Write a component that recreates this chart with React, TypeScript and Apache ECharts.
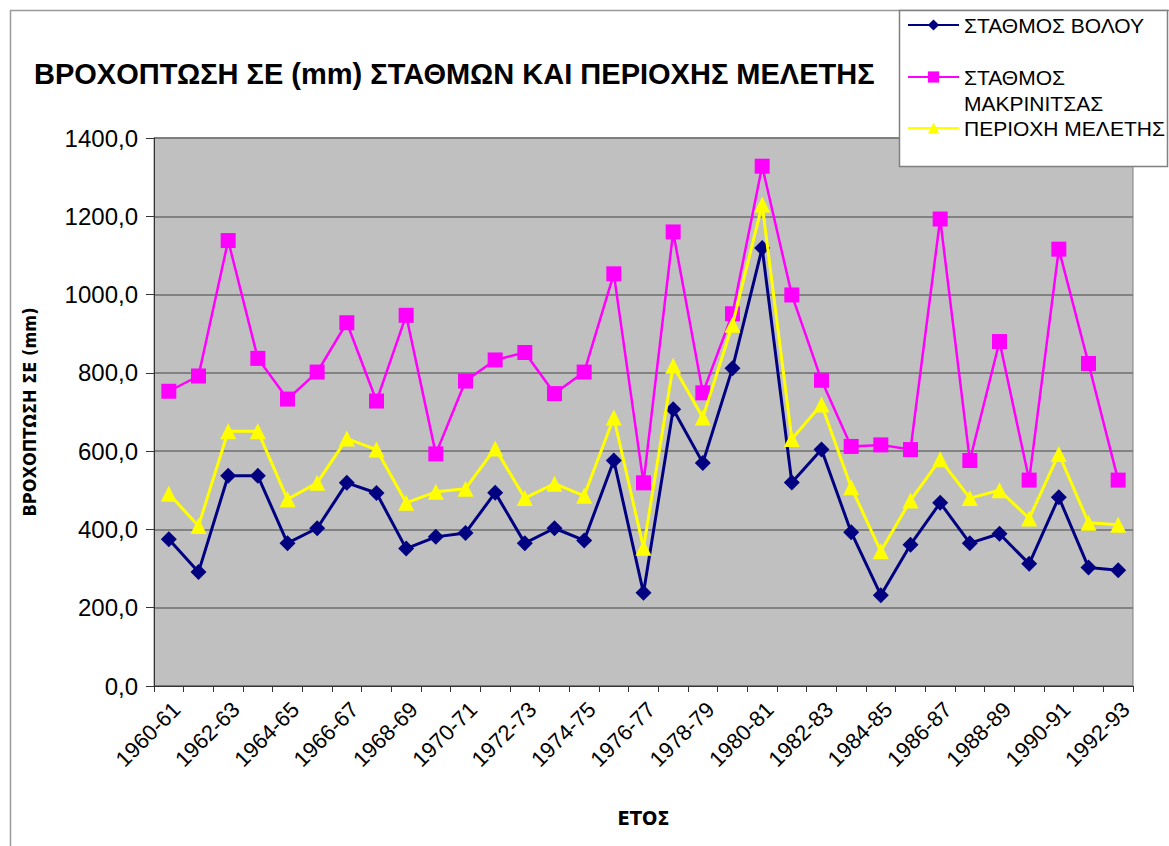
import React, { useEffect, useRef } from "react";
import * as echarts from "echarts";

const categories = [
  "1960-61", "1961-62", "1962-63", "1963-64", "1964-65", "1965-66", "1966-67",
  "1967-68", "1968-69", "1969-70", "1970-71", "1971-72", "1972-73", "1973-74",
  "1974-75", "1975-76", "1976-77", "1977-78", "1978-79", "1979-80", "1980-81",
  "1981-82", "1982-83", "1983-84", "1984-85", "1985-86", "1986-87", "1987-88",
  "1988-89", "1989-90", "1990-91", "1991-92", "1992-93",
];

const volos = [
  375, 291, 537, 537, 365, 403, 519, 493, 351, 381, 391, 494, 365, 403, 372,
  576, 238, 707, 570, 812, 1119, 520, 604, 393, 232, 361, 468, 365, 389, 312,
  482, 303, 296,
];

const makrinitsa = [
  753, 792, 1138, 837, 733, 802, 928, 728, 947, 593, 779, 833, 852, 747, 802,
  1053, 519, 1160, 749, 951, 1328, 999, 781, 612, 616, 604, 1193, 576, 880, 526,
  1116, 824, 526,
];

const studyArea = [
  491, 409, 651, 651, 477, 519, 632, 604, 468, 496, 504, 607, 480, 517, 486,
  686, 353, 818, 686, 923, 1230, 631, 719, 508, 344, 474, 579, 480, 500, 428,
  593, 417, 412,
];

const yTicks = { min: 0, max: 1400, interval: 200 };

const FONT = "'Liberation Sans', Arial, sans-serif";
const NARROW = "'Liberation Sans Narrow', 'DejaVu Sans Condensed', 'Liberation Sans', sans-serif";

export default function App() {
  const ref = useRef<HTMLDivElement>(null);

  useEffect(() => {
    document.body.style.margin = "0";
    if (!ref.current) return;
    const chart = echarts.init(ref.current, undefined, { renderer: "svg" });
    const legendBase = {
      orient: "vertical",
      left: 907,
      padding: 0,
      itemWidth: 51,
      itemHeight: 14,
      z: 12,
      textStyle: { fontSize: 21, color: "#000", fontFamily: FONT, lineHeight: 26 },
    };
    chart.setOption({
      animation: false,
      backgroundColor: "#fff",
      textStyle: { fontFamily: FONT },
      title: {
        text: "ΒΡΟΧΟΠΤΩΣΗ ΣΕ (mm) ΣΤΑΘΜΩΝ ΚΑΙ ΠΕΡΙΟΧΗΣ ΜΕΛΕΤΗΣ",
        left: 34,
        top: 59,
        padding: 0,
        textStyle: { fontSize: 29, fontWeight: "bold", color: "#000", fontFamily: FONT },
      },
      graphic: [
        {
          type: "rect",
          z: 1,
          shape: { x: 10.5, y: 10.5, width: 1300, height: 1000 },
          style: { fill: "none", stroke: "#9a9a9a", lineWidth: 1.5 },
        },
        {
          type: "rect",
          z: 10,
          shape: { x: 899.5, y: 10.5, width: 268, height: 156 },
          style: { fill: "#fff", stroke: "#808080", lineWidth: 1.5 },
        },
      ],
      legend: [
        { ...legendBase, top: 12, data: ["ΣΤΑΘΜΟΣ ΒΟΛΟΥ"] },
        {
          ...legendBase,
          top: 38,
          data: ["ΣΤΑΘΜΟΣ ΜΑΚΡΙΝΙΤΣΑΣ"],
          formatter: () => "\nΣΤΑΘΜΟΣ\nΜΑΚΡΙΝΙΤΣΑΣ",
        },
        { ...legendBase, top: 115, data: ["ΠΕΡΙΟΧΗ ΜΕΛΕΤΗΣ"] },
      ],
      grid: {
        left: 154,
        right: 36,
        top: 138,
        bottom: 160,
        show: true,
        backgroundColor: "#C0C0C0",
        borderColor: "#808080",
        borderWidth: 1,
      },
      xAxis: {
        type: "category",
        data: categories,
        boundaryGap: true,
        name: "ΕΤΟΣ",
        nameLocation: "middle",
        nameGap: 122,
        nameTextStyle: { fontSize: 20, fontWeight: "bold", color: "#000", fontFamily: NARROW },
        axisLine: { lineStyle: { color: "#333", width: 1 } },
        axisTick: { show: true, interval: 0, length: 6, lineStyle: { color: "#333" } },
        axisLabel: {
          interval: 1,
          rotate: 45,
          fontSize: 22,
          color: "#000",
          margin: 12,
          verticalAlign: "top",
          fontFamily: FONT,
        },
        splitLine: { show: false },
      },
      yAxis: {
        type: "value",
        min: yTicks.min,
        max: yTicks.max,
        interval: yTicks.interval,
        name: "ΒΡΟΧΟΠΤΩΣΗ ΣΕ (mm)",
        nameLocation: "middle",
        nameGap: 116,
        nameRotate: 90,
        nameTextStyle: { fontSize: 18, fontWeight: "bold", color: "#000", fontFamily: NARROW },
        axisLine: { show: true, lineStyle: { color: "#333", width: 1 } },
        axisTick: { show: true, length: 8, lineStyle: { color: "#333" } },
        axisLabel: {
          fontSize: 24,
          color: "#000",
          margin: 16,
          fontFamily: FONT,
          formatter: (v: number) => v.toFixed(1).replace(".", ","),
        },
        splitLine: { show: true, lineStyle: { color: "#6e6e6e", width: 1.5 } },
      },
      series: [
        {
          name: "ΣΤΑΘΜΟΣ ΒΟΛΟΥ",
          type: "line",
          data: volos,
          symbol: "diamond",
          symbolSize: 16,
          lineStyle: { color: "#000080", width: 3 },
          itemStyle: { color: "#000080" },
          z: 3,
        },
        {
          name: "ΣΤΑΘΜΟΣ ΜΑΚΡΙΝΙΤΣΑΣ",
          type: "line",
          data: makrinitsa,
          symbol: "rect",
          symbolSize: 15,
          lineStyle: { color: "#FF00FF", width: 2.5 },
          itemStyle: { color: "#FF00FF" },
          z: 4,
        },
        {
          name: "ΠΕΡΙΟΧΗ ΜΕΛΕΤΗΣ",
          type: "line",
          data: studyArea,
          symbol: "triangle",
          symbolSize: 16,
          lineStyle: { color: "#FFFF00", width: 3 },
          itemStyle: { color: "#FFFF00" },
          z: 5,
        },
      ],
    });
    return () => chart.dispose();
  }, []);

  return <div ref={ref} style={{ width: 1169, height: 846 }} />;
}
